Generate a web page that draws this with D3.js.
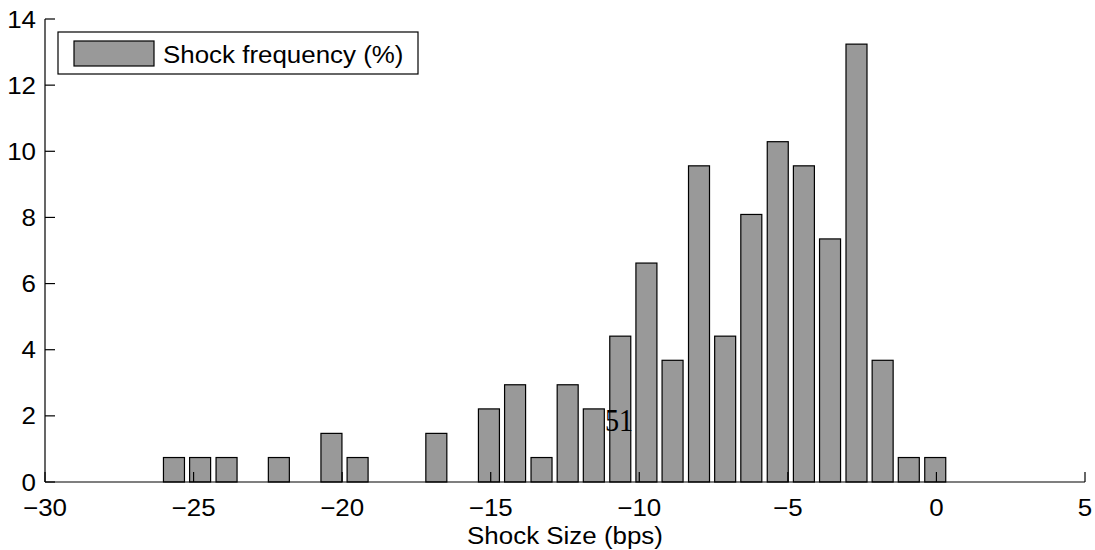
<!DOCTYPE html>
<html>
<head>
<meta charset="utf-8">
<script src="https://cdn.jsdelivr.net/npm/d3@7"></script>
<style>
  html, body { margin: 0; padding: 0; background: #fff; }
  svg { display: block; }
  text { font-family: "Liberation Sans", Arial, Helvetica, sans-serif; fill: #000; }
  text.page-num { font-family: "Liberation Serif", "DejaVu Serif", serif; }
</style>
</head>
<body>
<svg id="chart" width="1095" height="550"></svg>
<script>
// Histogram bin centres (bps) and share of shocks in each bin (%)
const binCenters = [-25.66, -24.78, -23.89, -23.01, -22.13, -21.24, -20.36, -19.48, -18.59, -17.71,
                    -16.83, -15.94, -15.06, -14.18, -13.29, -12.41, -11.53, -10.64, -9.76, -8.88,
                    -7.99, -7.11, -6.23, -5.34, -4.46, -3.58, -2.69, -1.81, -0.93, -0.04];
const frequency = [0.74, 0.74, 0.74, 0, 0.74, 0, 1.47, 0.74, 0, 0,
                   1.47, 0, 2.21, 2.94, 0.74, 2.94, 2.21, 4.41, 6.62, 3.68,
                   9.56, 4.41, 8.09, 10.29, 9.56, 7.35, 13.24, 3.68, 0.74, 0.74];
const binWidth = 0.8834;
const xTicks = [-30, -25, -20, -15, -10, -5, 0, 5];
const yTicks = [0, 2, 4, 6, 8, 10, 12, 14];
const seriesName = "Shock frequency (%)";
const xLabel = "Shock Size (bps)";
const pageNumber = "51";

const svg = d3.select("#chart");
const plotL = 45, plotR = 1085, plotT = 19, plotB = 482;
const x = d3.scaleLinear().domain([-30, 5]).range([plotL, plotR]);
const y = d3.scaleLinear().domain([0, 14]).range([plotB, plotT]);

const fontSize = 24, stretch = 1.08;
const fmt = v => (v < 0 ? "\u2212" + Math.abs(v) : String(v));

// Bars (80% of the bin width, MATLAB style)
const barW = x(binWidth * 0.8) - x(0);
svg.append("g")
  .selectAll("rect")
  .data(binCenters.map((c, i) => ({ c, v: frequency[i] })).filter(d => d.v > 0))
  .join("rect")
  .attr("x", d => x(d.c) - barW / 2)
  .attr("y", d => y(d.v))
  .attr("width", barW)
  .attr("height", d => y(0) - y(d.v))
  .attr("fill", "#999999")
  .attr("stroke", "#000")
  .attr("stroke-width", 1.2);

// Axes: left and bottom spines with inward ticks
const axisG = svg.append("g").attr("stroke", "#000").attr("stroke-width", 1.2).attr("fill", "none");
axisG.append("line").attr("x1", plotL).attr("x2", plotR).attr("y1", plotB).attr("y2", plotB);
axisG.append("line").attr("x1", plotL).attr("x2", plotL).attr("y1", plotB).attr("y2", plotT);
axisG.selectAll(".xt").data(xTicks).join("line")
  .attr("x1", d => x(d)).attr("x2", d => x(d))
  .attr("y1", plotB).attr("y2", plotB - 10);
axisG.selectAll(".yt").data(yTicks).join("line")
  .attr("x1", plotL).attr("x2", plotL + 10)
  .attr("y1", d => y(d)).attr("y2", d => y(d));

// Tick labels
svg.append("g").selectAll("text").data(xTicks).join("text")
  .attr("transform", d => `translate(${x(d)},${516}) scale(${stretch},1)`)
  .attr("text-anchor", "middle")
  .attr("font-size", fontSize)
  .text(fmt);
svg.append("g").selectAll("text").data(yTicks).join("text")
  .attr("transform", d => `translate(${36},${y(d) + 8.5}) scale(${stretch},1)`)
  .attr("text-anchor", "end")
  .attr("font-size", fontSize)
  .text(fmt);

// Axis title
svg.append("text")
  .attr("transform", `translate(${(plotL + plotR) / 2},${544}) scale(${stretch},1)`)
  .attr("text-anchor", "middle")
  .attr("font-size", fontSize)
  .text(xLabel);

// Legend
const lg = svg.append("g");
lg.append("rect").attr("x", 58).attr("y", 32).attr("width", 360).attr("height", 42)
  .attr("fill", "#fff").attr("stroke", "#000").attr("stroke-width", 1.2);
lg.append("rect").attr("x", 74).attr("y", 41).attr("width", 80).attr("height", 25)
  .attr("fill", "#999999").attr("stroke", "#000").attr("stroke-width", 1.2);
lg.append("text")
  .attr("transform", `translate(163,63) scale(${stretch},1)`)
  .attr("font-size", fontSize)
  .text(seriesName);

// Page number overprinted on the figure
svg.append("text")
  .attr("class", "page-num")
  .attr("text-anchor", "middle")
  .attr("font-size", 32)
  .attr("transform", "translate(619,431) scale(0.88,1)")
  .text(pageNumber);
</script>
</body>
</html>
